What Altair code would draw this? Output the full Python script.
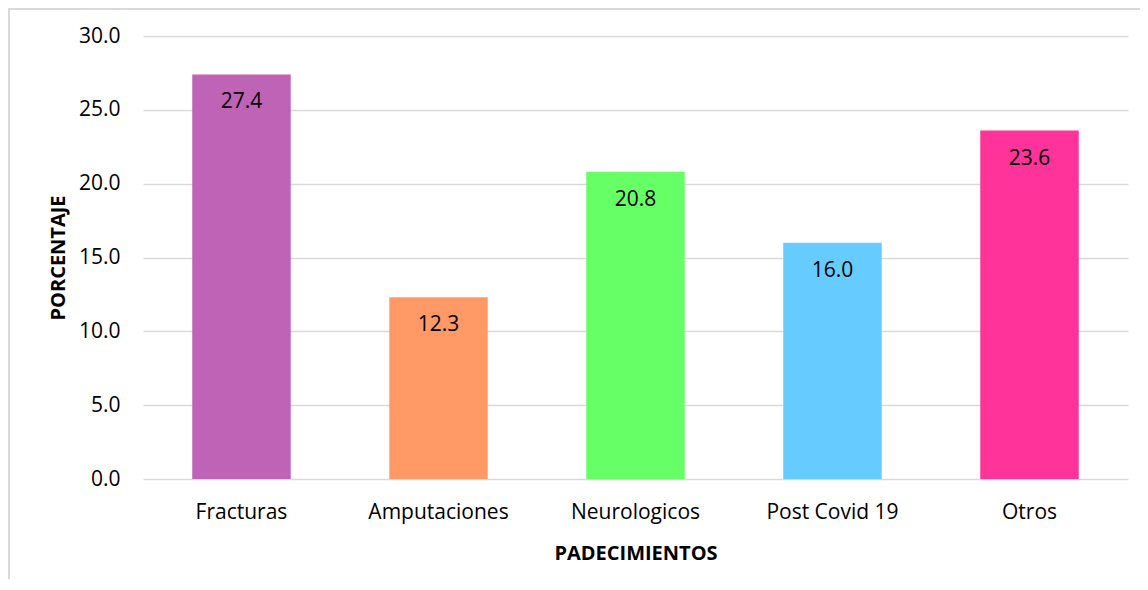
import altair as alt
import pandas as pd

categories = ["Fracturas", "Amputaciones", "Neurologicos", "Post Covid 19", "Otros"]
values = [27.4, 12.3, 20.8, 16.0, 23.6]
colors = ["#BF63B6", "#FF9966", "#66FF66", "#66CCFF", "#FF3399"]

df = pd.DataFrame({"cat": categories, "val": values})
FONT = "Open Sans"

x = alt.X("cat:N", sort=categories,
          scale=alt.Scale(paddingInner=0.5, paddingOuter=0.25),
          axis=alt.Axis(title="PADECIMIENTOS", labelAngle=0, labelFontSize=21,
                        labelPadding=22, ticks=False, domain=False,
                        titleFontSize=20, titleFontWeight="bold", titlePadding=21,
                        labelColor="#000", titleColor="#000"))
y = alt.Y("val:Q", scale=alt.Scale(domain=[0, 30]),
          axis=alt.Axis(title="PORCENTAJE", values=[0, 5, 10, 15, 20, 25, 30], format=".1f",
                        labelFontSize=21, labelPadding=23, ticks=False, domain=False,
                        gridColor="#D9D9D9", gridWidth=1.5,
                        titleFontSize=20, titleFontWeight="bold", titlePadding=10,
                        labelColor="#000", titleColor="#000"))

bars = alt.Chart(df).mark_bar().encode(
    x=x, y=y,
    color=alt.Color("cat:N", scale=alt.Scale(domain=categories, range=colors), legend=None),
)
labels = alt.Chart(df).mark_text(baseline="middle", dy=28, fontSize=21, color="#000", font=FONT).encode(
    x=alt.X("cat:N", sort=categories), y="val:Q", text=alt.Text("val:Q", format=".1f")
)
border_left = alt.Chart(df).mark_rule(color="#D9D9D9", strokeWidth=2).encode(
    x=alt.value(-134), y=alt.value(-28), y2=alt.value(560)
)
border_top = alt.Chart(df).mark_rule(color="#D9D9D9", strokeWidth=2).encode(
    x=alt.value(-134), x2=alt.value(1000), y=alt.value(-27)
)

chart = alt.layer(bars, labels, border_left, border_top).properties(
    width=985, height=443,
    padding={"left": 135, "top": 28, "right": 12, "bottom": 100},
    autosize=alt.AutoSizeParams(type="none"),
).configure(font=FONT).configure_view(stroke=None)

chart.save("out.html", embed_options={"renderer": "svg", "actions": False})
